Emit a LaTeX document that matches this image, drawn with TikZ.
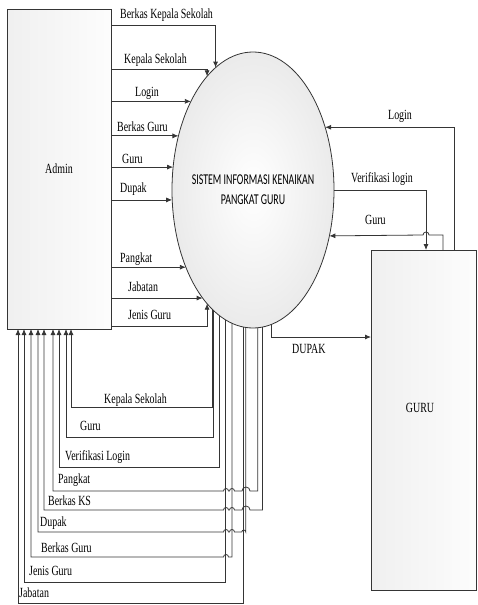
\documentclass[tikz,border=0pt]{standalone}
\usepackage{fontspec}
\setmainfont{Liberation Serif}[FakeStretch=0.71]
\newfontfamily\calfont{Carlito}[FakeStretch=0.66]
\usepackage{tikz}
\usetikzlibrary{arrows.meta,shapes.geometric}
\definecolor{ink}{HTML}{353535}

\begin{document}
\begin{tikzpicture}[
  x=1pt, y=-1pt,
  font=\fontsize{14}{16}\selectfont,
  entity/.style={draw=ink,line width=0.8pt,left color=gray!12,right color=gray!2,inner sep=0pt,outer sep=0pt},
  proc/.style={ellipse,draw=ink,line width=0.8pt,inner color=white,outer color=gray!16,minimum width=162pt,minimum height=276pt,inner sep=0pt,outer sep=0pt},
  flow/.style={draw=ink,line width=0.8pt,-{Latex[length=6pt,width=5pt]}},
  lbl/.style={anchor=base west,inner sep=0pt}
]
  \useasboundingbox (0,0) rectangle (478,605);
  \node[entity,minimum width=104pt,minimum height=320pt] (admin) at (59,169) {Admin};
  \node[entity,minimum width=105pt,minimum height=340pt] (guru) at (423.5,420) {};
  \node (gurutxt) at (420,408) {GURU};
  \node[proc,label={[align=center,font=\calfont\fontsize{15}{20}\selectfont]center:{SISTEM INFORMASI KENAIKAN\\PANGKAT GURU}}] (sys) at (253,190) {};

  % Admin -> sistem
  \draw[flow] (admin.east |- 0,25) -| (sys.107.3);
  \draw[flow] (admin.east |- 0,69) -| (sys.112.7);
  \draw[flow] (sys.125.9 -| admin.east) -- (sys.125.9);
  \draw[flow] (sys.144.7 -| admin.east) -- (sys.144.7);
  \draw[flow] (sys.164.6 -| admin.east) -- (sys.164.6);
  \draw[flow] (sys.187.8 -| admin.east) -- (sys.187.8);
  \draw[flow] (sys.229.4 -| admin.east) -- (sys.229.4);
  \draw[flow] (sys.245 -| admin.east) -- (sys.245);
  \draw[flow] (admin.east |- 0,326) -| (sys.248);
  \node[lbl] (in1) at (120,19) {Berkas Kepala Sekolah};
  \node[lbl] (in2) at (124,63) {Kepala Sekolah};
  \node[lbl] (in3) at (135,96) {Login};
  \node[lbl] (in4) at (117,131) {Berkas Guru};
  \node[lbl] (in5) at (122,163) {Guru};
  \node[lbl] (in6) at (120,192) {Dupak};
  \node[lbl] (in7) at (120,262) {Pangkat};
  \node[lbl] (in8) at (128,291) {Jabatan};
  \node[lbl] (in9) at (128,319) {Jenis Guru};

  % sistem <-> GURU
  \draw[flow] (guru.north -| 454,0) |- (sys.41.7);
  \draw[flow] (sys.0) -| (guru.north -| 426,0);
  \draw[flow] (guru.north -| 443,0) |- (429,235)
    arc[start angle=0,end angle=180,radius=3pt] -- (sys.329.6);
  \draw[flow] (sys.278.5) |- (guru.west |- 0,337);
  \node[lbl] (gl1) at (388,119) {Login};
  \node[lbl] (gl2) at (351,182) {Verifikasi login};
  \node[lbl] (gl3) at (365,224) {Guru};
  \node[lbl] (gl4) at (292,353) {DUPAK};

  % sistem -> Admin
  \draw[flow] (sys.251.6) |- (71,407) -- (admin.south -| 71,0);
  \draw[flow] (sys.252.7) |- (66,437) -- (admin.south -| 66,0);
  \draw[flow] (sys.255.3) |- (59,467) -- (admin.south -| 59,0);
  \draw[flow] (sys.272.9) |- (250,491)
    arc[start angle=0,end angle=180,radius=4pt] -- (234.5,491)
    arc[start angle=0,end angle=180,radius=2.5pt] -- (228.5,491)
    arc[start angle=0,end angle=180,radius=2.5pt] -- (53,491) -- (admin.south -| 53,0);
  \draw[flow] (sys.274.2) |- (250,510)
    arc[start angle=0,end angle=180,radius=4pt] -- (234.5,510)
    arc[start angle=0,end angle=180,radius=2.5pt] -- (228.5,510)
    arc[start angle=0,end angle=180,radius=2.5pt] -- (44,510) -- (admin.south -| 44,0);
  \draw[flow] (sys.267.5) -- (sys.267.5 |- 0,532)
    arc[start angle=0,end angle=180,radius=2pt] -- (234.5,532)
    arc[start angle=0,end angle=180,radius=2.5pt] -- (228.5,532)
    arc[start angle=0,end angle=180,radius=2.5pt] -- (38,532) -- (admin.south -| 38,0);
  \draw[flow] (sys.261) |- (228.5,557)
    arc[start angle=0,end angle=180,radius=2.5pt] -- (31,557) -- (admin.south -| 31,0);
  \draw[flow] (sys.258.3) |- (24,582) -- (admin.south -| 24,0);
  \draw[flow] (sys.266.7) |- (18,603) -- (admin.south -| 18,0);
  \node[lbl] (out1) at (104,403) {Kepala Sekolah};
  \node[lbl] (out2) at (80,430) {Guru};
  \node[lbl] (out3) at (65,460) {Verifikasi Login};
  \node[lbl] (out4) at (58,483) {Pangkat};
  \node[lbl] (out5) at (48,505) {Berkas KS};
  \node[lbl] (out6) at (40,526) {Dupak};
  \node[lbl] (out7) at (41,552) {Berkas Guru};
  \node[lbl] (out8) at (29,575) {Jenis Guru};
  \node[lbl] (out9) at (19,597) {Jabatan};
\end{tikzpicture}
\end{document}
